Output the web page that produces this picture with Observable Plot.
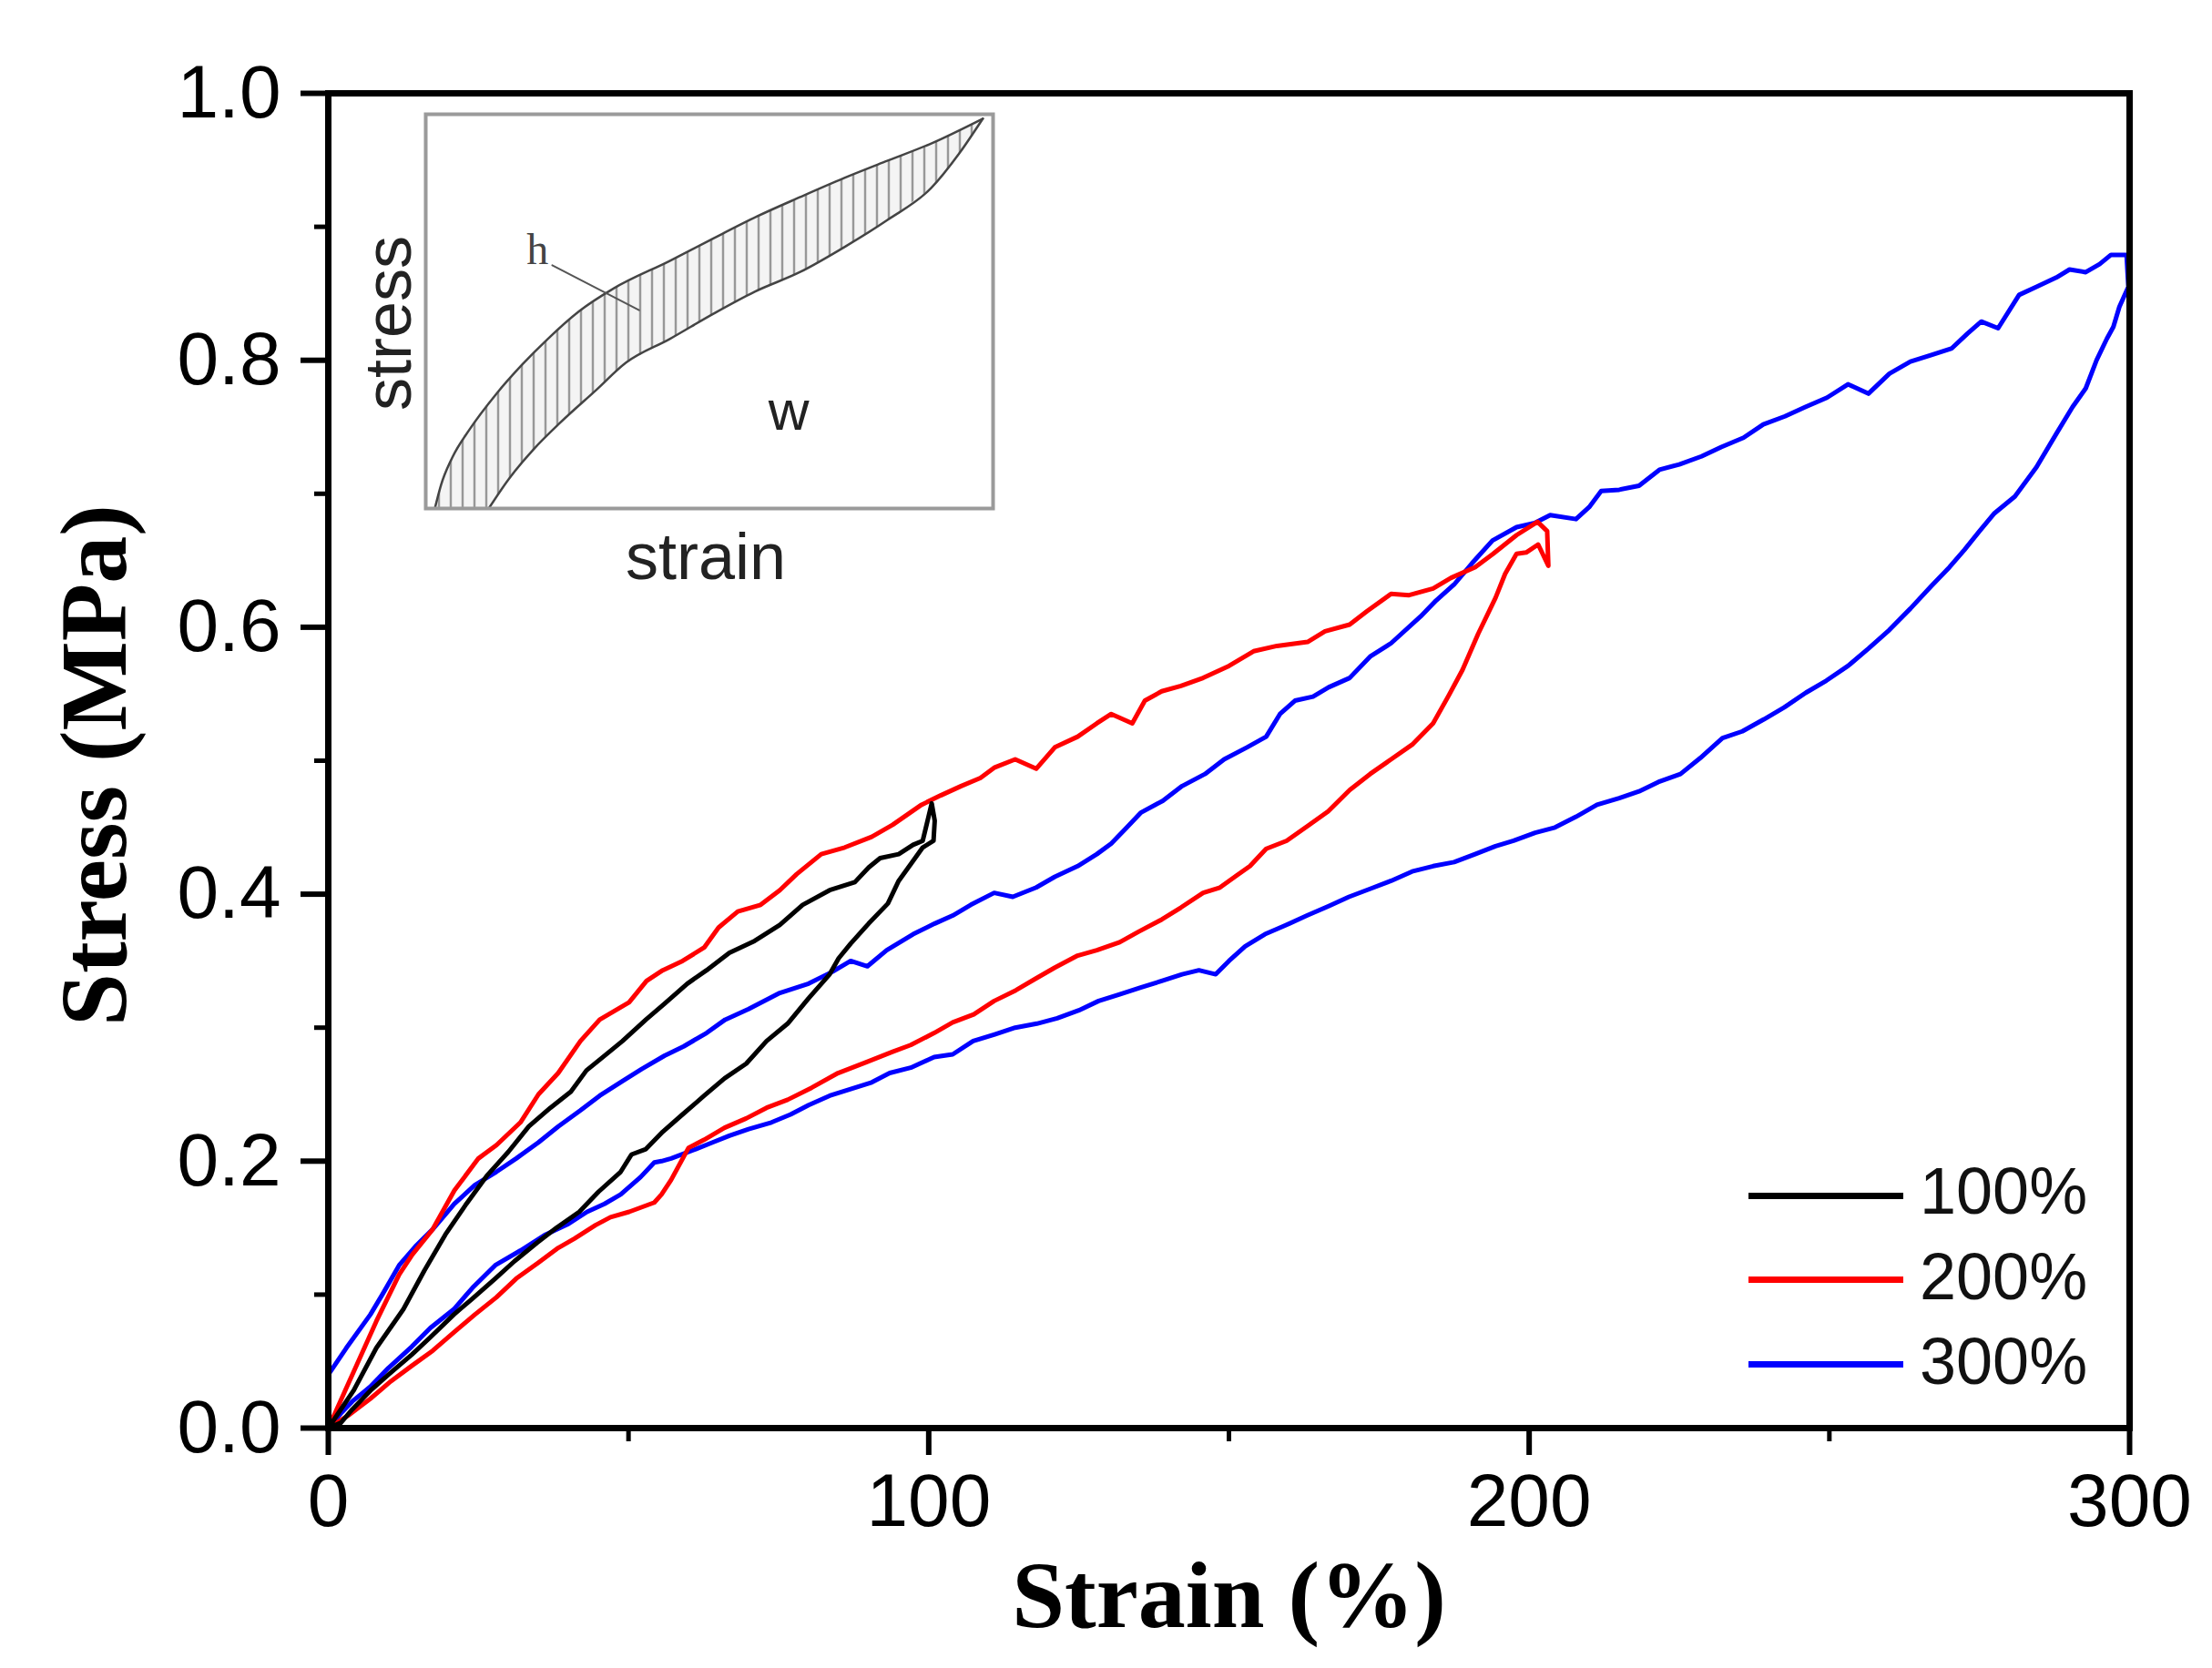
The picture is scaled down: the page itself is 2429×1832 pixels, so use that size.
<!DOCTYPE html>
<html>
<head>
<meta charset="utf-8">
<script src="https://cdn.jsdelivr.net/npm/d3@7"></script>
<script src="https://cdn.jsdelivr.net/npm/@observablehq/plot@0.6"></script>
<style>
  html, body { margin: 0; padding: 0; background: #fff; }
  #wrap { position: relative; width: 2429px; height: 1832px; overflow: hidden; background: #fff; }
  #inset { position: absolute; left: 397px; top: 120px; }
  .leg-line { position: absolute; left: 1920px; width: 170px; height: 7px; }
  .leg-text { position: absolute; left: 2108px; font-family: "Liberation Sans", Arial, sans-serif; font-size: 72px; line-height: 72px; color: #111; white-space: nowrap; }
</style>
</head>
<body>
<div id="wrap"></div>
<script>
// ---------------- data ----------------
const seriesNames = ["100%", "200%", "300%"];
const seriesColors = ["#000000", "#ff0000", "#0000ff"];

// strain (%), stress (MPa): loading then unloading
const loop100 = [[0,0],[4.2,0.028],[8,0.06],[12.5,0.089],[16,0.118],[19.5,0.145],[23,0.168],[26.4,0.189],[30,0.207],[33.4,0.226],
  [37,0.24],[40.4,0.252],[43,0.268],[45.2,0.276],[49,0.29],[52.9,0.306],[56,0.318],[59.8,0.333],[63,0.343],[66.8,0.356],
  [71,0.365],[75.2,0.377],[79,0.392],[83.5,0.403],[87.7,0.409],[90,0.42],[91.9,0.427],[95,0.43],[97.4,0.437],[99,0.44],
  [100.5,0.468],[101,0.455],[100.8,0.44],[99,0.435],[97.4,0.425],[95,0.41],[93.2,0.393],[90,0.378],[87,0.363],[85,0.352],
  [83.5,0.34],[80,0.322],[76.5,0.303],[73,0.29],[69.6,0.273],[66,0.262],[62.6,0.249],[59,0.235],[55.7,0.222],[52.9,0.209],
  [50.5,0.205],[48.7,0.192],[45,0.177],[41.8,0.162],[38,0.15],[34.8,0.139],[31,0.125],[27.8,0.112],[24,0.097],[20.9,0.085],
  [17,0.068],[13.9,0.055],[10,0.04],[7,0.028],[4,0.014],[2.1,0.004],[0,0]];

const loop200 = [[0,0],[2,0.02],[4.2,0.042],[8,0.08],[11.8,0.115],[14,0.13],[17.4,0.149],[21,0.178],[25,0.202],[28,0.212],
  [32,0.229],[35,0.25],[38.3,0.266],[42,0.29],[45.2,0.306],[50.1,0.319],[53,0.335],[55.7,0.343],[59,0.35],[62.6,0.36],
  [65,0.375],[68.2,0.387],[72,0.392],[75.2,0.403],[78,0.415],[82.1,0.43],[86,0.435],[90.5,0.443],[94,0.452],[98.8,0.467],
  [102,0.474],[105.4,0.481],[108.6,0.487],[111,0.495],[114.4,0.501],[117.9,0.494],[121,0.51],[124.8,0.518],[128,0.528],[130.4,0.535],
  [133.9,0.528],[136,0.545],[138.8,0.552],[142,0.556],[145.7,0.562],[150,0.571],[154.1,0.582],[158,0.586],[163.1,0.589],[166,0.597],
  [170.1,0.602],[173,0.612],[177,0.625],[180,0.624],[184,0.629],[187,0.637],[191,0.645],[194,0.655],[197.9,0.669],[201.4,0.679],
  [203,0.672],[203.2,0.646],[201.5,0.662],[199.5,0.656],[197.9,0.655],[196,0.64],[194.4,0.622],[191.5,0.595],[188.9,0.568],[186.5,0.548],
  [184,0.528],[180.5,0.512],[177,0.501],[173.5,0.49],[170.1,0.478],[166.5,0.462],[163.1,0.451],[159.6,0.44],[156.2,0.434],[153.5,0.421],
  [151.3,0.414],[148.5,0.405],[145.7,0.401],[142,0.39],[138.8,0.381],[135,0.372],[131.8,0.364],[128,0.358],[124.8,0.354],[121,0.345],
  [117.9,0.337],[114.5,0.328],[110.9,0.32],[107.5,0.31],[104,0.304],[100.9,0.296],[97,0.287],[94,0.282],[89.5,0.274],[84.9,0.266],
  [80.5,0.255],[76.5,0.246],[73,0.24],[69.6,0.232],[66,0.225],[62.6,0.216],[60,0.21],[57.1,0.186],[55.5,0.175],[54.3,0.169],
  [50.1,0.162],[47,0.158],[44.5,0.152],[41,0.142],[38.3,0.135],[35,0.124],[31.3,0.112],[28,0.098],[24.4,0.085],[21,0.072],
  [17.4,0.058],[14,0.047],[10.4,0.035],[7,0.022],[3.5,0.01],[0,0]];

const loop300 = [[0,0.04],[3,0.06],[7,0.085],[9,0.1],[11.8,0.122],[14.5,0.136],[17.4,0.149],[21,0.168],[24.4,0.182],[28,0.192],
  [31.3,0.202],[35,0.214],[38.3,0.226],[42,0.238],[45.2,0.249],[49,0.26],[52.2,0.269],[56,0.279],[59.2,0.286],[63,0.296],
  [66.1,0.306],[70,0.314],[75.2,0.326],[80,0.333],[84,0.342],[87,0.35],[89.8,0.346],[93,0.358],[97.4,0.37],[101,0.378],
  [104,0.384],[107,0.392],[110.9,0.401],[114,0.398],[117.9,0.405],[121,0.413],[124.8,0.421],[128,0.43],[130.4,0.438],[133,0.45],
  [135.3,0.461],[139,0.47],[142.2,0.481],[146,0.49],[149.2,0.501],[153,0.51],[156.2,0.518],[158.5,0.535],[161,0.545],[164,0.548],
  [166.6,0.555],[170.1,0.562],[173.5,0.578],[177,0.588],[181.9,0.608],[184.5,0.62],[187.5,0.632],[190.5,0.648],[193.9,0.665],[197.9,0.675],
  [200.9,0.678],[203.5,0.684],[207.8,0.681],[210,0.69],[212,0.702],[215,0.703],[218.3,0.706],[221.7,0.718],[225,0.722],[228.7,0.728],
  [232,0.735],[235.7,0.742],[239,0.752],[242.6,0.758],[246,0.765],[249.6,0.772],[253.1,0.782],[256.5,0.775],[260,0.79],[263.5,0.799],
  [267,0.804],[270.4,0.809],[273,0.82],[275.3,0.829],[278.1,0.824],[281.6,0.849],[284.5,0.855],[287.8,0.862],[290,0.868],[292.7,0.866],
  [295,0.872],[296.9,0.879],[299.5,0.879],[299.8,0.855],[298.3,0.84],[297.3,0.825],[296.2,0.816],[294.5,0.8],[292.7,0.779],[290.5,0.765],
  [287.8,0.745],[284.5,0.72],[280.9,0.698],[277.4,0.685],[275,0.672],[272.5,0.658],[270,0.645],[267,0.631],[263.5,0.614],[260,0.598],
  [256.5,0.584],[253.1,0.571],[249.5,0.56],[246.1,0.551],[242.5,0.54],[239.1,0.531],[235.5,0.522],[232.2,0.517],[228.5,0.502],[225.2,0.49],
  [221.5,0.484],[218.3,0.477],[215,0.472],[211.3,0.467],[207.8,0.458],[204.3,0.45],[201,0.446],[197.4,0.44],[194.4,0.436],[191,0.43],
  [187.5,0.424],[184,0.421],[180.5,0.417],[177,0.41],[173.5,0.404],[170,0.398],[166.6,0.391],[163,0.384],[159.6,0.377],[156,0.37],
  [152.7,0.361],[150,0.35],[147.8,0.34],[145,0.343],[142.2,0.34],[138.8,0.335],[135.3,0.33],[131.8,0.325],[128.3,0.32],[125,0.313],
  [121.4,0.307],[118,0.303],[114.4,0.3],[111,0.295],[107.4,0.29],[104,0.28],[100.9,0.278],[97,0.27],[93.5,0.266],[90.5,0.259],
  [87,0.254],[83.5,0.249],[80,0.242],[77,0.235],[73.8,0.229],[70,0.224],[66.8,0.219],[64,0.214],[61.2,0.209],[57.1,0.202],
  [55.5,0.2],[54.3,0.199],[52,0.188],[48.7,0.175],[46,0.168],[43.1,0.162],[40,0.153],[36.2,0.145],[32,0.133],[27.8,0.122],
  [24,0.105],[20.9,0.089],[17,0.075],[13.9,0.061],[10,0.045],[7,0.031],[4,0.02],[2.1,0.011],[0,0]];

const xTicks = [0, 100, 200, 300];
const xMinorTicks = [50, 150, 250];
const yTicks = [0, 0.2, 0.4, 0.6, 0.8, 1.0];
const yMinorTicks = [0.1, 0.3, 0.5, 0.7, 0.9];
const xTitle = "Strain (%)";
const yTitle = "Stress (MPa)";

// inset schematic (unit coordinates)
const insetUpper = [[0.016,0],[0.027,0.06],[0.047,0.13],[0.077,0.2],[0.124,0.29],[0.17,0.365],[0.215,0.43],[0.27,0.5],[0.331,0.558],
  [0.43,0.628],[0.5,0.68],[0.584,0.741],[0.66,0.79],[0.737,0.838],[0.81,0.88],[0.891,0.926],[0.982,0.989]];
const insetLower = [[0.111,0],[0.146,0.074],[0.19,0.15],[0.238,0.219],[0.3,0.3],[0.353,0.37],[0.43,0.43],[0.507,0.494],
  [0.58,0.55],[0.66,0.6],[0.74,0.665],[0.814,0.732],[0.891,0.813],[0.94,0.9],[0.982,0.989]];
const insetLeader = [[0.223,0.617],[0.376,0.503]];
const insetNotes = ["h", "w"];
const insetNoteU = [0.197, 0.64];
const insetNoteV = [0.656, 0.245];
const insetXLabel = "strain";
const insetYLabel = "stress";

// ---------------- main chart ----------------
const sans = "'Liberation Sans', Arial, Helvetica, sans-serif";
const serif = "'Liberation Serif', 'Times New Roman', Times, serif";
const loops = [loop100, loop200, loop300];
const series = seriesNames.map((name, i) => ({name, color: seriesColors[i], points: loops[i]}));

const main = Plot.plot({
  width: 2429,
  height: 1832,
  marginLeft: 360,
  marginRight: 91,
  marginTop: 102,
  marginBottom: 264,
  x: {domain: [0, 300], label: null},
  y: {domain: [0, 1], label: null},
  style: {fontFamily: sans, background: "white", color: "black", overflow: "visible"},
  marks: [
    ...series.slice().reverse().map(s =>
      Plot.line(s.points, {x: d => d[0], y: d => d[1], stroke: s.color, strokeWidth: 5, strokeLinejoin: "round"})),
    Plot.frame({stroke: "black", strokeWidth: 7}),
    Plot.axisX({ticks: xTicks, tickSize: 30, tickPadding: 19, strokeWidth: 6, fontSize: 82, label: null, tickFormat: d => String(d)}),
    Plot.axisX({ticks: xMinorTicks, tickSize: 15, strokeWidth: 5, label: null, tickFormat: () => ""}),
    Plot.axisY({ticks: yTicks, tickSize: 30, tickPadding: 22, strokeWidth: 6, fontSize: 82, label: null, tickFormat: d3.format(".1f")}),
    Plot.axisY({ticks: yMinorTicks, tickSize: 15, strokeWidth: 5, label: null, tickFormat: () => ""}),
    Plot.text([xTitle], {text: d => d, frameAnchor: "bottom", textAnchor: "middle", lineAnchor: "bottom", dy: 218, fontSize: 104, fontWeight: "bold", fontFamily: serif, fill: "black"}),
    Plot.text([yTitle], {text: d => d, frameAnchor: "left", textAnchor: "middle", lineAnchor: "bottom", rotate: -90, dx: -223, dy: 5, fontSize: 104, fontWeight: "bold", fontFamily: serif, fill: "black"})
  ]
});
const wrap = document.getElementById("wrap");
wrap.appendChild(main);

// ---------------- inset ----------------
const hatchPoly = [...insetUpper, ...insetLower.slice().reverse(), insetUpper[0]];
const insetBase = [insetUpper[0], insetLower[0]];
const noteData = insetNotes.map((t, i) => ({t, u: insetNoteU[i], v: insetNoteV[i]}));
const inset = Plot.plot({
  width: 700,
  height: 530,
  marginLeft: 70,
  marginRight: 7,
  marginTop: 5,
  marginBottom: 92,
  x: {domain: [0, 1], axis: null},
  y: {domain: [0, 1], axis: null},
  style: {fontFamily: sans, background: "transparent", color: "#333", overflow: "visible"},
  marks: [
    Plot.line(hatchPoly, {x: d => d[0], y: d => d[1], fill: "url(#insetHatch)", stroke: "none"}),
    Plot.line(insetUpper, {x: d => d[0], y: d => d[1], stroke: "#444", strokeWidth: 2.5, curve: "monotone-x"}),
    Plot.line(insetLower, {x: d => d[0], y: d => d[1], stroke: "#444", strokeWidth: 2.5, curve: "monotone-x"}),
    Plot.line(insetBase, {x: d => d[0], y: d => d[1], stroke: "#444", strokeWidth: 3}),
    Plot.line(insetLeader, {x: d => d[0], y: d => d[1], stroke: "#555", strokeWidth: 2}),
    Plot.frame({stroke: "#9a9a9a", strokeWidth: 4}),
    Plot.text(noteData.filter(d => d.t === "h"), {x: "u", y: "v", text: "t", fontSize: 48, fontFamily: serif, fill: "#444"}),
    Plot.text(noteData.filter(d => d.t === "w"), {x: "u", y: "v", text: "t", fontSize: 62, fontFamily: sans, fill: "#222"}),
    Plot.text([insetXLabel], {text: d => d, frameAnchor: "bottom", textAnchor: "middle", lineAnchor: "bottom", dy: 77, dx: -4, fontSize: 72, fontFamily: sans, fill: "#222"}),
    Plot.text([insetYLabel], {text: d => d, frameAnchor: "left", textAnchor: "middle", lineAnchor: "bottom", rotate: -90, dx: -17, dy: 13, fontSize: 72, fontFamily: sans, fill: "#222"})
  ]
});
const ns = "http://www.w3.org/2000/svg";
const defs = document.createElementNS(ns, "defs");
const pat = document.createElementNS(ns, "pattern");
pat.setAttribute("id", "insetHatch");
pat.setAttribute("patternUnits", "userSpaceOnUse");
pat.setAttribute("width", "13");
pat.setAttribute("height", "13");
const bg = document.createElementNS(ns, "rect");
bg.setAttribute("width", "13"); bg.setAttribute("height", "13"); bg.setAttribute("fill", "#f4f4f4");
const hl = document.createElementNS(ns, "line");
hl.setAttribute("x1", "6.5"); hl.setAttribute("x2", "6.5"); hl.setAttribute("y1", "0"); hl.setAttribute("y2", "13");
hl.setAttribute("stroke", "#666"); hl.setAttribute("stroke-width", "1.6");
pat.appendChild(bg); pat.appendChild(hl); defs.appendChild(pat);
inset.insertBefore(defs, inset.firstChild);
inset.id = "inset";
wrap.appendChild(inset);

// ---------------- legend ----------------
const legendLineY = [1310, 1402, 1495];
const legendTextTop = [1272, 1366, 1459];
seriesNames.forEach((name, i) => {
  const ln = document.createElement("div");
  ln.className = "leg-line";
  ln.style.top = legendLineY[i] + "px";
  ln.style.background = seriesColors[i];
  wrap.appendChild(ln);
  const tx = document.createElement("div");
  tx.className = "leg-text";
  tx.style.top = legendTextTop[i] + "px";
  tx.textContent = name;
  wrap.appendChild(tx);
});
</script>
</body>
</html>
